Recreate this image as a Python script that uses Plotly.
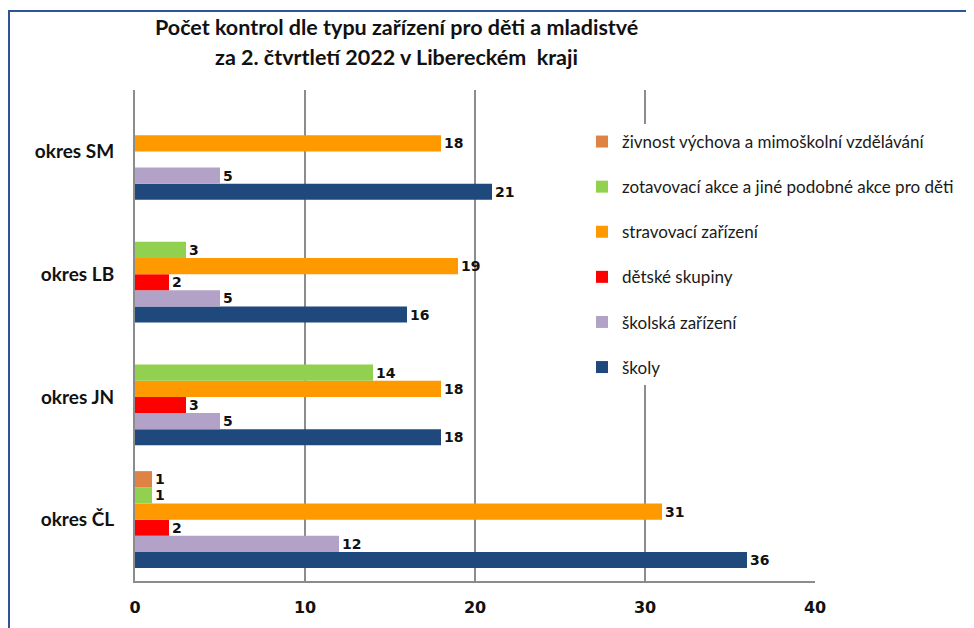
import plotly.graph_objects as go

categories = ["okres ČL", "okres JN", "okres LB", "okres SM"]
series_names = [
    "školy",
    "školská zařízení",
    "dětské skupiny",
    "stravovací zařízení",
    "zotavovací akce a jiné podobné akce pro děti",
    "živnost výchova a mimoškolní vzdělávání",
]
skoly = [36, 18, 16, 21]
skolska_zarizeni = [12, 5, 5, 5]
detske_skupiny = [2, 3, 2, None]
stravovaci_zarizeni = [31, 18, 19, 18]
zotavovaci_akce = [1, 14, 3, None]
zivnost = [1, None, None, None]
x_ticks = [0, 10, 20, 30, 40]

values = [skoly, skolska_zarizeni, detske_skupiny, stravovaci_zarizeni, zotavovaci_akce, zivnost]
colors = ["#1F497D", "#B3A2C7", "#FF0000", "#FF9900", "#92D050", "#DE8344"]

fig = go.Figure()
for i, (name, vals, col) in enumerate(zip(series_names, values, colors)):
    fig.add_trace(go.Bar(
        y=categories, x=vals, name=name, orientation="h",
        marker=dict(color=col, line=dict(width=0)),
        text=[str(v) if v is not None else "" for v in vals],
        textposition="outside", cliponaxis=False, constraintext="none",
        textfont=dict(family="DejaVu Sans", size=14, color="#111111", weight="bold"),
        legendgroup=f"g{i}", legendrank=100 - i,
    ))

OFF = 8  # page body offset
W, H = 974 - OFF, 628 - OFF
# page-pixel positions of plot area
PL, PR, PT, PB = 135, 815, 90, 581
L, T = PL - OFF, PT - OFF
R = W - (PR - OFF)
B = H - (PB - OFF)
pw, ph = W - L - R, H - T - B

def px_x(x):  # page px -> paper
    return (x - PL) / pw

def px_y(y):
    return (PB - y) / ph

fig.update_layout(
    width=W, height=H,
    margin=dict(l=L, r=R, t=T, b=B, autoexpand=False),
    paper_bgcolor="white", plot_bgcolor="white",
    barmode="group", bargap=0.21, bargroupgap=0,
    showlegend=True,
    legend=dict(
        x=px_x(582), y=px_y(124), xanchor="left", yanchor="top",
        bgcolor="white", traceorder="grouped", tracegroupgap=20,
        font=dict(family="Lato", size=17, color="#1a1a1a"),
        itemclick=False,
    ),
    xaxis=dict(
        range=[0, 40], tickvals=x_ticks, showgrid=True, gridcolor="#8C8C8C", gridwidth=2,
        showline=True, linecolor="#8C8C8C", linewidth=2, zeroline=False,
        ticks="", ticklabelstandoff=11,
        tickfont=dict(family="DejaVu Sans", size=16, color="#111111", weight="bold"),
        fixedrange=True,
    ),
    yaxis=dict(
        categoryorder="array", categoryarray=categories,
        showgrid=False, showline=True, linecolor="#8C8C8C", linewidth=2,
        ticks="", ticklabelstandoff=15,
        tickfont=dict(family="Lato", size=19, color="#111111", weight="bold"),
        fixedrange=True,
    ),
    shapes=[
        dict(type="line", xref="paper", yref="paper", x0=px_x(9), x1=px_x(9), y0=px_y(11), y1=px_y(640),
             line=dict(color="#2F5597", width=2)),
        dict(type="line", xref="paper", yref="paper", x0=px_x(8), x1=px_x(990), y0=px_y(11), y1=px_y(11),
             line=dict(color="#2F5597", width=2)),
    ],
    annotations=[
        dict(text="Počet kontrol dle typu zařízení pro děti a mladistvé", xref="paper", yref="paper",
             x=px_x(396), y=px_y(27), xanchor="center", yanchor="middle", showarrow=False,
             font=dict(family="Lato", size=21.5, color="#111111", weight="bold")),
        dict(text="za 2. čtvrtletí 2022 v Libereckém  kraji", xref="paper", yref="paper",
             x=px_x(396), y=px_y(57), xanchor="center", yanchor="middle", showarrow=False,
             font=dict(family="Lato", size=21.5, color="#111111", weight="bold")),
    ],
)

fig.write_html("out.html")
